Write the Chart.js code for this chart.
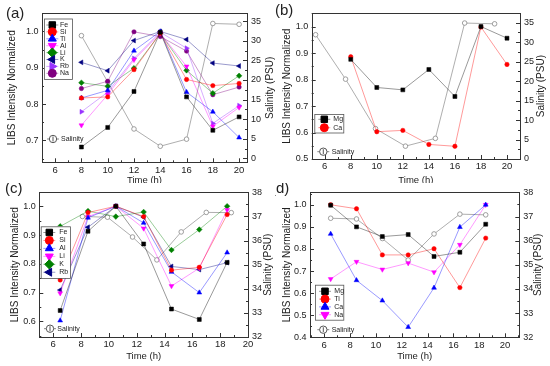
<!DOCTYPE html>
<html>
<head>
<meta charset="utf-8">
<script src="https://cdn.jsdelivr.net/npm/chart.js@4.4.0/dist/chart.umd.min.js"></script>
<style>
  html, body { margin: 0; padding: 0; background: #fff; }
  #wrap { position: relative; width: 550px; height: 366px; overflow: hidden; }
  canvas { position: absolute; }
  #pa { left: 0; top: 0; }
  #pb { left: 275px; top: 0; }
  #pc { left: 0; top: 183px; background: #fff; z-index: 2; }
  #pd { left: 275px; top: 183px; background: #fff; z-index: 2; }
</style>
</head>
<body>
<div id="wrap">
  <canvas id="pa" width="275" height="192"></canvas>
  <canvas id="pb" width="275" height="192"></canvas>
  <canvas id="pc" width="275" height="183"></canvas>
  <canvas id="pd" width="275" height="183"></canvas>
</div>
<script>
Chart.defaults.font.family = "'Liberation Sans', Arial, sans-serif";
Chart.defaults.color = '#222';

const timeTicks = [6, 8, 10, 12, 14, 16, 18, 20];

// (a)
const aTime = [8, 10, 12, 14, 16, 18, 20];
const aFe = [0.682, 0.736, 0.835, 0.998, 0.820, 0.728, 0.765];
const aSi = [0.817, 0.820, 0.895, 0.995, 0.868, 0.851, 0.857];
const aTi = [0.817, 0.838, 0.947, 1.000, 0.833, 0.779, 0.708];
const aAl = [0.742, 0.826, 0.922, 0.995, 0.904, 0.739, 0.791];
const aLi = [0.859, 0.849, 0.899, 0.995, 0.893, 0.830, 0.878];
const aK  = [0.915, 0.892, 0.975, 1.000, 0.978, 0.913, 0.905];
const aRb = [0.779, 0.833, 0.926, 0.998, 0.954, 0.747, 0.796];
const aNa = [0.843, 0.863, 0.999, 0.986, 0.946, 0.826, 0.847];
const aSalTime = [8, 10, 12, 14, 16, 18, 20];
const aSal = [31.3, 19.5, 7.5, 3.1, 4.9, 34.4, 34.2];
const aYTicks = [0.7, 0.8, 0.9, 1.0];
const aSalTicks = [0, 5, 10, 15, 20, 25, 30, 35];

// (b)
const bTime = [8, 10, 12, 14, 16, 18, 20];
const bMg = [0.876, 0.770, 0.761, 0.838, 0.736, 1.000, 0.956];
const bCa = [0.886, 0.603, 0.608, 0.555, 0.548, 0.998, 0.857];
const bSalTime = [5.3, 7.6, 9.9, 12.2, 14.5, 16.75, 19.05];
const bSal = [31.9, 20.5, 7.8, 3.3, 5.3, 34.9, 34.7];
const bYTicks = [0.5, 0.6, 0.7, 0.8, 0.9, 1.0];
const bSalTicks = [0, 5, 10, 15, 20, 25, 30, 35];

// (c)
const cTime = [6.5, 8.5, 10.5, 12.5, 14.5, 16.5, 18.5];
const cFe = [0.638, 0.913, 1.000, 0.869, 0.643, 0.607, 0.805];
const cSi = [0.744, 0.978, 1.000, 0.964, 0.778, 0.788, 0.971];
const cAl = [0.603, 0.960, 1.000, 0.942, 0.772, 0.700, 0.839];
const cLi = [0.698, 0.964, 1.000, 0.923, 0.723, 0.785, 0.987];
const cK  = [0.930, 0.983, 0.964, 0.980, 0.848, 0.919, 1.000];
const cRb = [0.709, 0.927, 1.000, 0.962, 0.791, 0.780, 0.804];
const cSalTime = [8.1, 9.9, 11.7, 13.45, 15.2, 17.0, 18.8];
const cSal = [37.0, 36.97, 36.15, 35.2, 36.36, 37.17, 37.16];
const cYTicks = [0.6, 0.7, 0.8, 0.9, 1.0];
const cSalTicks = [32, 33, 34, 35, 36, 37, 38];

// (d)
const dTime = [6.5, 8.5, 10.5, 12.5, 14.5, 16.5, 18.5];
const dMg = [0.998, 0.900, 0.856, 0.865, 0.766, 0.785, 0.912];
const dTi = [1.000, 0.982, 0.773, 0.773, 0.801, 0.625, 0.849];
const dCa = [0.868, 0.658, 0.566, 0.446, 0.624, 0.899, 1.000];
const dNa = [0.664, 0.742, 0.707, 0.736, 0.695, 0.819, 1.000];
const dSal = [36.93, 36.9, 36.09, 35.2, 36.28, 37.1, 37.07];
const dYTicks = [0.4, 0.5, 0.6, 0.7, 0.8, 0.9, 1.0];
const dSalTicks = [32, 33, 34, 35, 36, 37, 38];

const BLACK = '#000000', RED = '#ff0000', BLUE = '#0000ff', MAGENTA = '#ff00ff';
const GREEN = '#008000', NAVY = '#000080', VIOLET = '#9933ff', PURPLE = '#800080';
const SQ = ['rect', 0], CI = ['circle', 0], UP = ['triangle', 0], DN = ['triangle', 180];
const DIA = ['rectRot', 0], LT = ['triangle', 270], RT = ['triangle', 90];

function fade(hex, a) {
  const n = parseInt(hex.slice(1), 16);
  return 'rgba(' + (n >> 16) + ',' + ((n >> 8) & 255) + ',' + (n & 255) + ',' + a + ')';
}

function series(label, xs, ys, color, mk) {
  return {
    label: label,
    data: xs.map((x, i) => ({ x: x, y: ys[i] })),
    yAxisID: 'y',
    borderColor: fade(color, 0.4),
    borderWidth: 1,
    backgroundColor: color,
    pointBackgroundColor: color,
    pointBorderColor: color,
    pointBorderWidth: 0.5,
    pointStyle: mk[0],
    pointRotation: mk[1],
    pointRadius: mk[0] === 'circle' ? 2.2 : 2.8,
    showLine: true
  };
}

function salinity(xs, ys) {
  return {
    label: 'Salinity',
    data: xs.map((x, i) => ({ x: x, y: ys[i] })),
    yAxisID: 'y2',
    borderColor: 'rgba(120,120,120,0.6)',
    borderWidth: 1,
    pointBackgroundColor: '#fff',
    pointBorderColor: '#888',
    pointBorderWidth: 0.8,
    pointStyle: 'circle',
    pointRadius: 2.3,
    showLine: true
  };
}

function marks(scale) {
  const vals = scale.ticks.map(t => t.value);
  const step = vals[1] - vals[0];
  const out = vals.map(v => [v, 4]);
  for (let i = -1; i < vals.length; i++) {
    const v = vals[0] + step * (i + 0.5);
    if (v >= scale.min - 1e-9 && v <= scale.max + 1e-9) out.push([v, 2]);
  }
  return out;
}

const decor = {
  id: 'decor',
  afterDraw(chart, args, o) {
    const ctx = chart.ctx;
    const a = chart.chartArea;
    const xs = chart.scales.x, ys = chart.scales.y, y2 = chart.scales.y2;
    ctx.save();
    ctx.strokeStyle = '#333';
    ctx.lineWidth = 1;
    ctx.strokeRect(Math.round(a.left) + 0.5, Math.round(a.top) + 0.5,
      Math.round(a.right - a.left), Math.round(a.bottom - a.top));
    ctx.beginPath();
    marks(xs).forEach(([v, len]) => {
      const p = Math.round(xs.getPixelForValue(v)) + 0.5;
      ctx.moveTo(p, a.bottom); ctx.lineTo(p, a.bottom - len);
    });
    marks(ys).forEach(([v, len]) => {
      const p = Math.round(ys.getPixelForValue(v)) + 0.5;
      ctx.moveTo(a.left, p); ctx.lineTo(a.left + len, p);
    });
    marks(y2).forEach(([v, len]) => {
      const p = Math.round(y2.getPixelForValue(v)) + 0.5;
      ctx.moveTo(a.right, p); ctx.lineTo(a.right - len, p);
    });
    ctx.stroke();

    // right axis title, reading bottom to top
    ctx.fillStyle = '#222';
    ctx.font = "10px 'Liberation Sans', Arial, sans-serif";
    ctx.textAlign = 'center';
    ctx.textBaseline = 'middle';
    ctx.save();
    ctx.translate(o.y2TitleX, (a.top + a.bottom) / 2);
    ctx.rotate(-Math.PI / 2);
    ctx.fillText('Salinity (PSU)', 0, 0);
    ctx.restore();

    // panel tag
    ctx.font = "15px 'Liberation Sans', Arial, sans-serif";
    ctx.textAlign = 'left';
    ctx.fillText(o.tag, o.tagX, o.tagY);

    // element legend
    const lg = o.legend;
    ctx.fillStyle = '#fff';
    ctx.fillRect(lg.box[0], lg.box[1], lg.box[2] - lg.box[0], lg.box[3] - lg.box[1]);
    ctx.strokeStyle = '#555';
    ctx.lineWidth = 0.8;
    ctx.strokeRect(lg.box[0] + 0.5, lg.box[1] + 0.5, lg.box[2] - lg.box[0], lg.box[3] - lg.box[1]);
    ctx.font = "7px 'Liberation Sans', Arial, sans-serif";
    const items = chart.data.datasets.filter(d => d.yAxisID === 'y');
    items.forEach((d, i) => {
      const y = lg.y0 + i * lg.dy;
      ctx.strokeStyle = d.borderColor;
      ctx.lineWidth = 1;
      ctx.beginPath();
      ctx.moveTo(lg.mx - 6, y); ctx.lineTo(lg.mx + 6, y);
      ctx.stroke();
      ctx.fillStyle = d.pointBackgroundColor;
      ctx.strokeStyle = d.pointBorderColor;
      Chart.helpers.drawPoint(ctx, {
        pointStyle: d.pointStyle, rotation: d.pointRotation,
        radius: d.pointStyle === 'circle' ? 4 : 4.6, borderWidth: 0.5
      }, lg.mx, y);
      ctx.fillStyle = '#222';
      ctx.fillText(d.label, lg.tx, y);
    });

    // salinity legend
    const s = o.sal;
    ctx.strokeStyle = '#888';
    ctx.lineWidth = 1;
    ctx.beginPath();
    ctx.moveTo(s.x - 6, s.y); ctx.lineTo(s.x + 6, s.y);
    ctx.stroke();
    ctx.fillStyle = '#fff';
    ctx.strokeStyle = '#555';
    ctx.beginPath();
    ctx.arc(s.x, s.y, 3.7, 0, Math.PI * 2);
    ctx.fill(); ctx.stroke();
    ctx.beginPath();
    ctx.moveTo(s.x, s.y - 2.5); ctx.lineTo(s.x, s.y + 2.5);
    ctx.stroke();
    ctx.fillStyle = '#222';
    ctx.fillText('Salinity', s.tx, s.y);
    ctx.restore();
  }
};

function makePanel(p) {
  const A = p.area;
  return new Chart(document.getElementById(p.id), {
    type: 'scatter',
    data: { datasets: p.datasets },
    plugins: [decor],
    options: {
      responsive: false,
      animation: false,
      layout: { padding: { top: A.t, left: 0, right: 0, bottom: 0 } },
      plugins: {
        legend: { display: false },
        tooltip: { enabled: false },
        decor: { tag: p.tag, tagX: p.tagX, tagY: p.tagY, y2TitleX: p.y2TitleX, legend: p.legend, sal: p.sal }
      },
      scales: {
        x: {
          type: 'linear', min: p.xMin, max: p.xMax,
          grid: { display: false, drawTicks: false },
          border: { display: false },
          afterBuildTicks: s => { s.ticks = timeTicks.map(v => ({ value: v })); },
          afterFit: s => { s.height = p.H - A.b; },
          ticks: { padding: 2, font: { size: 9.5 }, callback: v => v },
          title: { display: true, text: 'Time (h)', font: { size: 9.5 }, padding: { top: 0, bottom: p.H - p.xTitleY - 5.7 } }
        },
        y: {
          position: 'left', min: p.yMin, max: p.yMax,
          grid: { display: false, drawTicks: false },
          border: { display: false },
          afterBuildTicks: s => { s.ticks = p.yTicks.map(v => ({ value: v })); },
          afterFit: s => { s.width = A.l; },
          ticks: { padding: 3.5, font: { size: 9 }, callback: v => v.toFixed(1) },
          title: { display: true, text: 'LIBS Intensity Normalized', font: { size: 10 }, padding: { top: p.yTitleX - 6, bottom: 0 } }
        },
        y2: {
          position: 'right', min: p.y2Min, max: p.y2Max,
          grid: { display: false, drawTicks: false },
          border: { display: false },
          afterBuildTicks: s => { s.ticks = p.y2Ticks.map(v => ({ value: v })); },
          afterFit: s => { s.width = 275 - A.r; },
          ticks: { padding: 4, font: { size: 9 }, callback: v => v }
        }
      }
    }
  });
}

makePanel({
  id: 'pa', tag: '(a)', tagX: 6, tagY: 14, H: 192,
  area: { l: 42, r: 247, t: 13.3, b: 162.3 },
  xMin: 5, xMax: 20.6, yMin: 0.64, yMax: 1.05, y2Min: -1, y2Max: 37,
  yTicks: aYTicks, y2Ticks: aSalTicks, yTitleX: 12, y2TitleX: 270, xTitleY: 180,
  legend: { box: [44, 18.5, 72, 79], y0: 25, dy: 6.9, mx: 52.3, tx: 60 },
  sal: { x: 53, y: 139, tx: 61 },
  datasets: [
    series('Fe', aTime, aFe, BLACK, SQ),
    series('Si', aTime, aSi, RED, CI),
    series('Ti', aTime, aTi, BLUE, UP),
    series('Al', aTime, aAl, MAGENTA, DN),
    series('Li', aTime, aLi, GREEN, DIA),
    series('K', aTime, aK, NAVY, LT),
    series('Rb', aTime, aRb, VIOLET, RT),
    series('Na', aTime, aNa, PURPLE, CI),
    salinity(aSalTime, aSal)
  ]
});

makePanel({
  id: 'pb', tag: '(b)', tagX: 0, tagY: 11, H: 192,
  area: { l: 36.7, r: 245, t: 13.3, b: 159 },
  xMin: 5, xMax: 21, yMin: 0.5, yMax: 1.05, y2Min: 0, y2Max: 37.4,
  yTicks: bYTicks, y2Ticks: bSalTicks, yTitleX: 12, y2TitleX: 266.7, xTitleY: 180,
  legend: { box: [39.3, 114, 68.3, 132.5], y0: 119.3, dy: 8.4, mx: 49.3, tx: 58.3 },
  sal: { x: 48.3, y: 151.7, tx: 56.7 },
  datasets: [
    series('Mg', bTime, bMg, BLACK, SQ),
    series('Ca', bTime, bCa, RED, CI),
    salinity(bSalTime, bSal)
  ]
});

makePanel({
  id: 'pc', tag: '(c)', tagX: 5, tagY: 6, H: 183,
  area: { l: 39.3, r: 248, t: 7.3, b: 154 },
  xMin: 5, xMax: 20, yMin: 0.546, yMax: 1.048, y2Min: 32, y2Max: 38,
  yTicks: cYTicks, y2Ticks: cSalTicks, yTitleX: 15.5, y2TitleX: 268.3, xTitleY: 173.3,
  legend: { box: [40.7, 43.3, 70, 95], y0: 49.5, dy: 7.95, mx: 49.3, tx: 59.3 },
  sal: { x: 50, y: 145.7, tx: 57.3 },
  datasets: [
    series('Fe', cTime, cFe, BLACK, SQ),
    series('Si', cTime, cSi, RED, CI),
    series('Al', cTime, cAl, BLUE, UP),
    series('Li', cTime, cLi, MAGENTA, DN),
    series('K', cTime, cK, GREEN, DIA),
    series('Rb', cTime, cRb, NAVY, LT),
    salinity(cSalTime, cSal)
  ]
});

makePanel({
  id: 'pd', tag: '(d)', tagX: -4, tagY: 6, H: 183,
  area: { l: 35, r: 244.3, t: 6.7, b: 154.3 },
  xMin: 4.9, xMax: 21.1, yMin: 0.4, yMax: 1.056, y2Min: 32, y2Max: 38,
  yTicks: dYTicks, y2Ticks: dSalTicks, yTitleX: 12, y2TitleX: 263.3, xTitleY: 173.3,
  legend: { box: [40, 101.7, 68.3, 136.7], y0: 108.3, dy: 7.8, mx: 50, tx: 59.3 },
  sal: { x: 48.3, y: 146.7, tx: 56.7 },
  datasets: [
    series('Mg', dTime, dMg, BLACK, SQ),
    series('Ti', dTime, dTi, RED, CI),
    series('Ca', dTime, dCa, BLUE, UP),
    series('Na', dTime, dNa, MAGENTA, DN),
    salinity(dTime, dSal)
  ]
});
</script>
</body>
</html>
